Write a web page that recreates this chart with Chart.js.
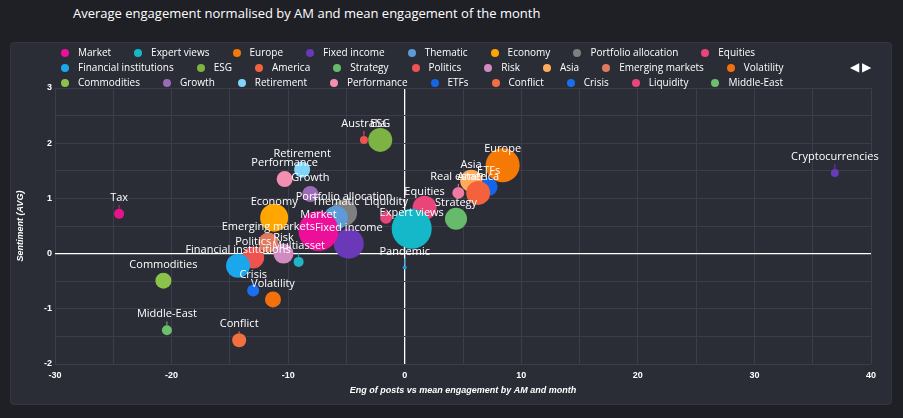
<!DOCTYPE html>
<html>
<head>
<meta charset="utf-8">
<script src="https://cdn.jsdelivr.net/npm/chart.js@4.4.0/dist/chart.umd.min.js"></script>
<style>
  body { margin: 0; background: #1f2026; font-family: "Open Sans", sans-serif; }
  #title { position: absolute; left: 73px; top: 4px; color: #fff; font-size: 13px; }
  #panel { position: absolute; left: 10px; top: 42px; width: 882px; height: 363px; background: #2a2c36; border-radius: 4px; border: 1px solid #34363f; box-sizing: border-box; }
  #chart { position: absolute; left: 0; top: 0; }
  #legend { position: absolute; left: 50px; top: 2px; width: 790px; color: #fff; font-size: 10px; line-height: 15px; }
  #legend span.item { display: inline-block; margin-right: 23px; white-space: nowrap; }
  #legend span.dot { display: inline-block; width: 8px; height: 8px; border-radius: 50%; margin-right: 9px; vertical-align: -0.5px; }
  #arrows { position: absolute; right: 20px; top: 15px; color: #fff; font-size: 12px; }
</style>
</head>
<body>
<div id="title">Average engagement normalised by AM and mean engagement of the month</div>
<div id="panel">
  <canvas id="chart" width="880" height="361"></canvas>
  <div id="legend"></div>
  <div id="arrows">◀ ▶</div>
</div>
<script>
// topics, x = engagement vs mean, y = sentiment, r = bubble radius (px)
const names = ["Market","Expert views","Europe","Fixed income","Thematic","Economy","Portfolio allocation","Equities",
  "Financial institutions","ESG","America","Strategy","Politics","Risk","Asia","Emerging markets","Volatility",
  "Commodities","Growth","Retirement","Performance","ETFs","Conflict","Crisis","Liquidity","Middle-East",
  "Multiasset","Australia","Pandemic","Real estate","Tax","Cryptocurrencies"];
const xVals = [-7.4, 0.6, 8.4, -4.8, -5.9, -11.2, -5.2, 1.7,
  -14.3, -2.1, 6.3, 4.4, -13.0, -10.4, 5.7, -11.7, -11.3,
  -20.7, -8.1, -8.8, -10.3, 7.2, -14.2, -13.0, -1.6, -20.4,
  -9.1, -3.5, 0.0, 4.6, -24.5, 36.9];
const yVals = [0.41, 0.45, 1.6, 0.18, 0.65, 0.65, 0.74, 0.83,
  -0.22, 2.06, 1.1, 0.63, -0.07, 0.0, 1.32, 0.2, -0.83,
  -0.49, 1.08, 1.52, 1.35, 1.21, -1.57, -0.67, 0.65, -1.39,
  -0.15, 2.06, -0.25, 1.1, 0.72, 1.46];
const sizes = [20, 20, 17, 15, 12, 14, 13, 12,
  12, 12, 12, 11, 11, 10, 11, 10, 8,
  8, 8, 8, 8, 9, 7, 6, 6, 5,
  5, 4, 2, 6, 5, 4];
const colors = ["#ec0f9a","#14b8c9","#f57a05","#6a38b8","#5c9bd5","#ffa600","#7f7f7f","#e8457a",
  "#1aa7ec","#7cb342","#f4613d","#66bb6a","#ef5350","#d28bc0","#ffab5c","#e07a5f","#f4700c",
  "#8bc34a","#9c6bb5","#81d4fa","#f48fb1","#1565e8","#f27040","#1a6ff0","#e8457a","#6cbf6c",
  "#22b5c8","#ef5350","#1a9ee0","#f07aa0","#e6148a","#673ab7"];
const legendCount = 26;

const datasets = names.map((n, i) => ({
  label: n,
  data: [{ x: xVals[i], y: yVals[i], r: sizes[i] }],
  backgroundColor: colors[i],
  borderColor: colors[i],
  borderWidth: 0
}));

// html legend (first page only, like the original)
document.getElementById("legend").innerHTML = names.slice(0, legendCount).map((n, i) =>
  `<span class="item"><span class="dot" style="background:${colors[i]}"></span>${n}</span>`).join("");

// draws the name above each bubble
const labelPlugin = {
  id: "bubbleLabels",
  afterDatasetsDraw(chart) {
    const ctx = chart.ctx;
    ctx.save();
    ctx.font = "11px 'Open Sans', sans-serif";
    ctx.textAlign = "center";
    ctx.textBaseline = "middle";
    chart.data.datasets.forEach((ds, i) => {
      const el = chart.getDatasetMeta(i).data[0];
      if (!el) return;
      if (sizes[i] <= 7) {
        ctx.strokeStyle = colors[i];
        ctx.lineWidth = 1;
        ctx.beginPath(); ctx.moveTo(el.x, el.y - sizes[i]); ctx.lineTo(el.x, el.y - 9); ctx.stroke();
      }
      ctx.fillStyle = "#fff";
      ctx.fillText(ds.label, el.x, el.y - 16);
    });
    ctx.restore();
  }
};

const gridColor = c => c.tick.value === 0 ? "#ffffff" : "#3b3e4a";
const gridWidth = c => c.tick.value === 0 ? 1.3 : 1;

new Chart(document.getElementById("chart"), {
  type: "bubble",
  data: { datasets },
  plugins: [labelPlugin],
  options: {
    responsive: false,
    animation: false,
    layout: { padding: { left: 0, right: 20, top: 45, bottom: 6 } },
    plugins: { tooltip: { enabled: false }, legend: { display: false } },
    scales: {
      x: {
        min: -30, max: 40,
        afterFit: s => { s.height = 34; },
        ticks: { stepSize: 5, color: "#fff", padding: 6, font: { size: 9, weight: "bold" },
          callback: v => (v % 10 === 0 ? v : "") },
        grid: { color: gridColor, lineWidth: gridWidth, drawTicks: false },
        border: { display: false },
        title: { display: true, padding: 2, text: "Eng of posts vs mean engagement by AM and month", color: "#fff", font: { size: 9, style: "italic", weight: "bold" } }
      },
      y: {
        min: -2, max: 3,
        afterFit: s => { s.width = 44; },
        ticks: { stepSize: 0.5, color: "#fff", font: { size: 9, weight: "bold" },
          callback: v => (Number.isInteger(v) ? v : "") },
        grid: { color: gridColor, lineWidth: gridWidth, drawTicks: false },
        border: { display: false },
        title: { display: true, text: "Sentiment (AVG)", color: "#fff", font: { size: 9, style: "italic", weight: "bold" } }
      }
    }
  }
});
</script>
</body>
</html>
